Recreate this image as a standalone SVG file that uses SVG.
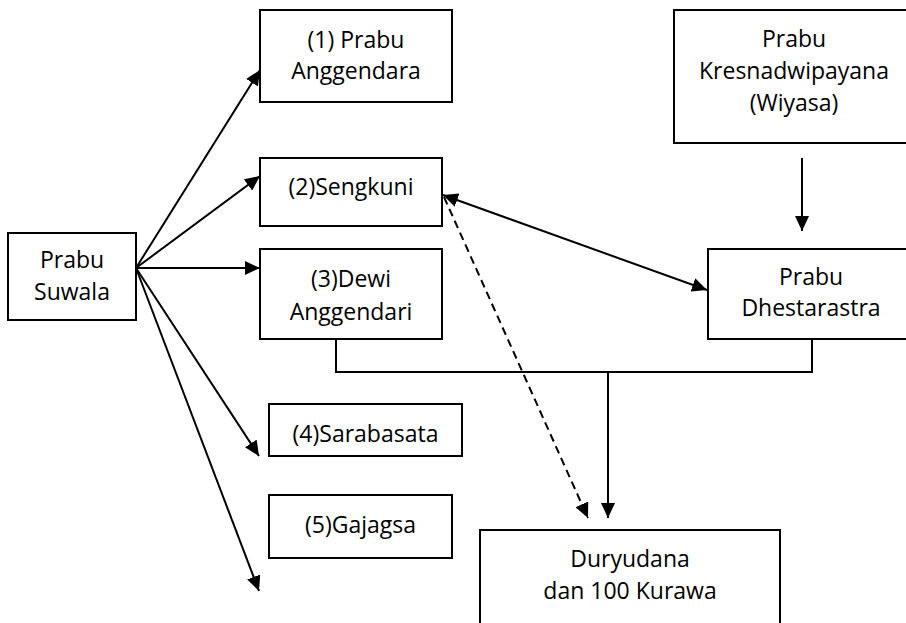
<svg xmlns="http://www.w3.org/2000/svg" width="906" height="623" viewBox="0 0 906 623">
<defs>
<style>
.box{fill:#fff;stroke:#000;stroke-width:2}
.t{font-family:"Open Sans","Noto Sans","Liberation Sans",sans-serif;font-size:23px;fill:#000;text-anchor:middle}
.c{fill:none;stroke:#000;stroke-width:2}
.d{stroke-dasharray:8 5}
</style>
<marker id="ah" markerUnits="userSpaceOnUse" markerWidth="16" markerHeight="14" refX="15" refY="7" orient="auto-start-reverse">
<path d="M0,0 L15,7 L0,14 z" fill="#000"/>
</marker>
</defs>
<rect width="906" height="623" fill="#fff"/>
<g id="connectors">
<line class="c" x1="136" y1="268" x2="260" y2="70" marker-end="url(#ah)"/>
<line class="c" x1="136" y1="268" x2="260" y2="176" marker-end="url(#ah)"/>
<line class="c" x1="136" y1="268" x2="260" y2="268" marker-end="url(#ah)"/>
<line class="c" x1="136" y1="268" x2="259" y2="456" marker-end="url(#ah)"/>
<line class="c" x1="136" y1="268" x2="259" y2="591" marker-end="url(#ah)"/>
<line class="c" x1="443" y1="195" x2="707" y2="290" marker-start="url(#ah)" marker-end="url(#ah)"/>
<line class="c d" x1="444" y1="197" x2="588" y2="518" marker-end="url(#ah)"/>
<line class="c" x1="802" y1="158" x2="802" y2="231" marker-end="url(#ah)"/>
<polyline class="c" points="336,339 336,372 812,372 812,339"/>
<line class="c" x1="608" y1="372" x2="608" y2="518" marker-end="url(#ah)"/>
</g>
<g id="suwala">
<rect class="box" x="8" y="233" width="128" height="87"/>
<text class="t" x="72" y="268">Prabu</text>
<text class="t" x="72" y="300">Suwala</text>
</g>
<g id="anggendara">
<rect class="box" x="260" y="10" width="192" height="92"/>
<text class="t" x="356" y="48">(1) Prabu</text>
<text class="t" x="356" y="79">Anggendara</text>
</g>
<g id="sengkuni">
<rect class="box" x="260" y="158" width="182" height="68"/>
<text class="t" x="351" y="195">(2)Sengkuni</text>
</g>
<g id="anggendari">
<rect class="box" x="260" y="249" width="182" height="90"/>
<text class="t" x="351" y="287">(3)Dewi</text>
<text class="t" x="351" y="320">Anggendari</text>
</g>
<g id="sarabasata">
<rect class="box" x="269" y="404" width="193" height="52"/>
<text class="t" x="365.5" y="442">(4)Sarabasata</text>
</g>
<g id="gajagsa">
<rect class="box" x="269" y="495" width="183" height="63"/>
<text class="t" x="360.5" y="533">(5)Gajagsa</text>
</g>
<g id="wiyasa">
<rect class="box" x="674" y="10" width="240" height="133"/>
<text class="t" x="794" y="47">Prabu</text>
<text class="t" x="794" y="79">Kresnadwipayana</text>
<text class="t" x="794" y="111">(Wiyasa)</text>
</g>
<g id="dhestarastra">
<rect class="box" x="708" y="249" width="206" height="90"/>
<text class="t" x="811" y="285">Prabu</text>
<text class="t" x="811" y="316">Dhestarastra</text>
</g>
<g id="duryudana">
<rect class="box" x="480" y="530" width="300" height="110"/>
<text class="t" x="630" y="567">Duryudana</text>
<text class="t" x="630" y="599">dan 100 Kurawa</text>
</g>
</svg>
